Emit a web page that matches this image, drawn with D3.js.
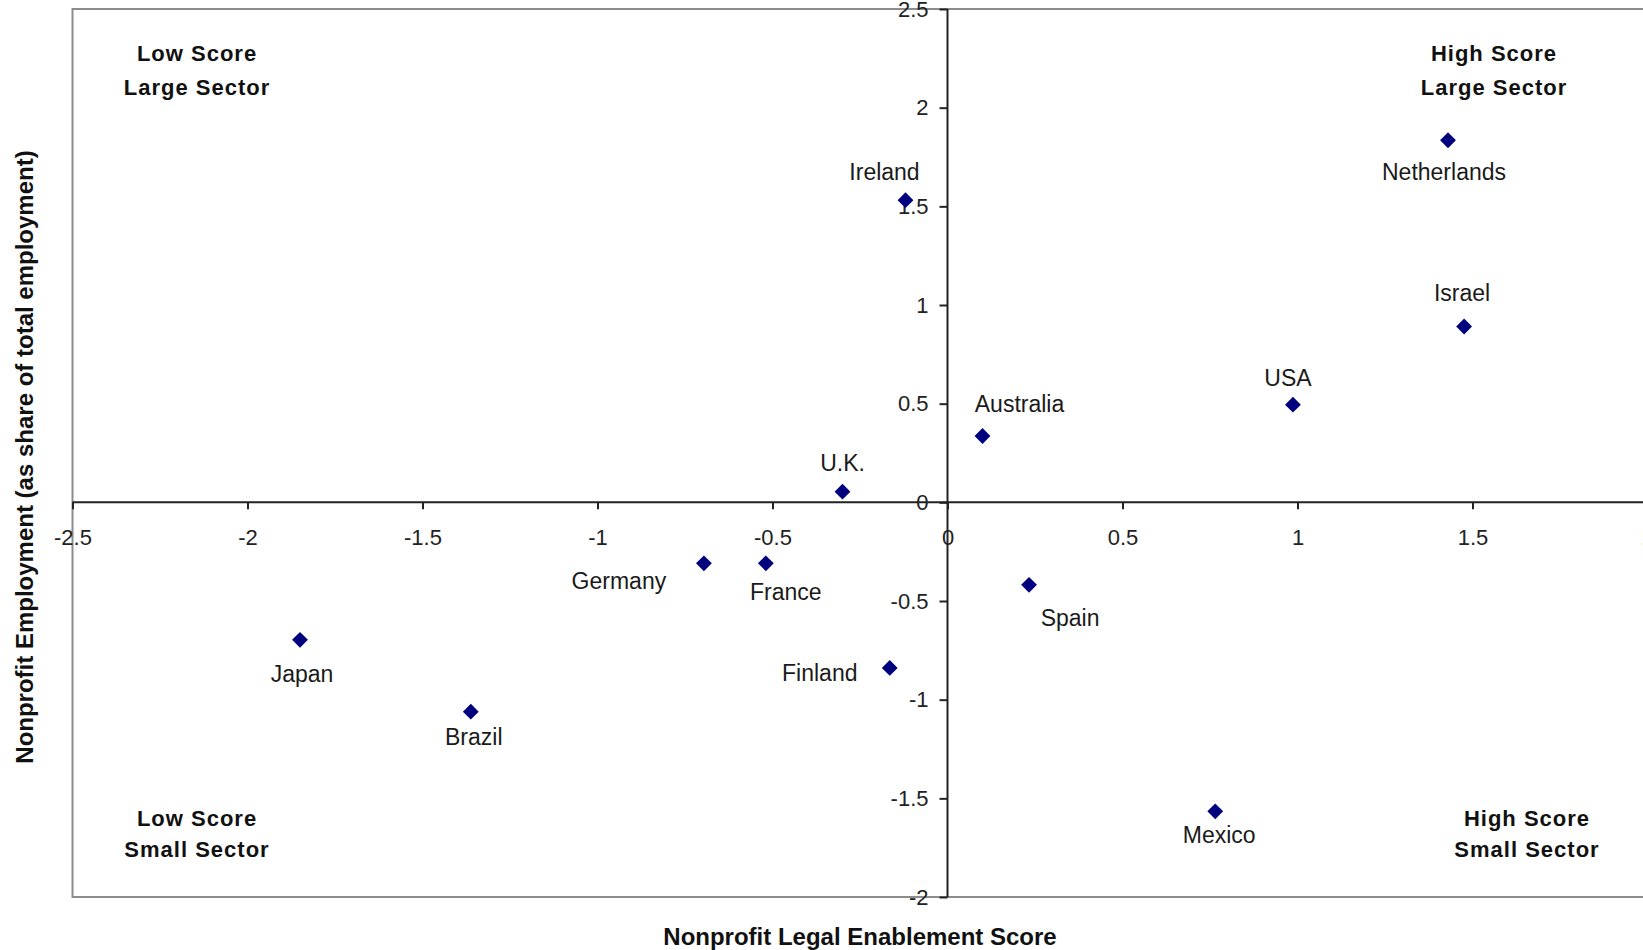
<!DOCTYPE html>
<html>
<head>
<meta charset="utf-8">
<script src="https://cdn.jsdelivr.net/npm/d3@7"></script>
<style>
  html, body { margin: 0; padding: 0; background: #fff; overflow: hidden; }
  svg { display: block; font-family: "Liberation Sans", Arial, sans-serif; }
</style>
</head>
<body>
<svg id="chart" width="1643" height="950"></svg>
<script>
// ---- Data ----
const countries = ["Ireland", "Netherlands", "Israel", "USA", "Australia", "U.K.", "Germany", "France", "Spain", "Japan", "Finland", "Brazil", "Mexico"];
const enablementScore = [-0.12, 1.43, 1.476, 0.987, 0.10, -0.30, -0.696, -0.519, 0.233, -1.85, -0.165, -1.362, 0.765];
const employmentScore = [1.531, 1.835, 0.891, 0.495, 0.336, 0.054, -0.309, -0.309, -0.418, -0.697, -0.839, -1.061, -1.566];
const xTicks = [-2.5, -2, -1.5, -1, -0.5, 0, 0.5, 1, 1.5, 2];
const yTicks = [-2, -1.5, -1, -0.5, 0, 0.5, 1, 1.5, 2, 2.5];
const quadrantLabels = [["Low Score", "Large Sector"], ["High Score", "Large Sector"], ["Low Score", "Small Sector"], ["High Score", "Small Sector"]];
const xTitle = "Nonprofit Legal Enablement Score";
const yTitle = "Nonprofit Employment (as share of total employment)";

// ---- Layout (kept separate from data) ----
const labelOffsets = {
  "Ireland": [-21, -20], "Netherlands": [-4, 40], "Israel": [-2, -26], "USA": [-5, -19],
  "Australia": [37, -24], "U.K.": [0, -21], "Germany": [-85, 26], "France": [20, 37],
  "Spain": [41, 41], "Japan": [2, 42], "Finland": [-70, 13], "Brazil": [3, 33], "Mexico": [4, 32]
};
const plot = { left: 72.5, right: 1647.5, top: 9, bottom: 897 };

const svg = d3.select("#chart");
const x = d3.scaleLinear().domain([-2.5, 2]).range([plot.left, plot.right]);
const y = d3.scaleLinear().domain([-2, 2.5]).range([plot.bottom, plot.top]);
const fmt = d => String(d);

// frame
svg.append("rect")
  .attr("x", plot.left).attr("y", plot.top)
  .attr("width", plot.right - plot.left).attr("height", plot.bottom - plot.top)
  .attr("fill", "none").attr("stroke", "#8c8c8c").attr("stroke-width", 2);

// x axis through y=0
const xAxis = svg.append("g")
  .attr("transform", `translate(0,${y(0)})`)
  .call(d3.axisBottom(x).tickValues(xTicks).tickFormat(fmt).tickSizeInner(7).tickSizeOuter(0).tickPadding(20));
// y axis through x=0
const yAxis = svg.append("g")
  .attr("transform", `translate(${x(0)},0)`)
  .call(d3.axisLeft(y).tickValues(yTicks).tickFormat(fmt).tickSizeInner(8).tickSizeOuter(0).tickPadding(11));

[xAxis, yAxis].forEach(g => {
  g.select(".domain").attr("stroke", "#222").attr("stroke-width", 2);
  g.selectAll(".tick line").attr("stroke", "#222").attr("stroke-width", 2);
  g.selectAll(".tick text").attr("fill", "#222").style("font-size", "22px").style("font-family", "'Liberation Sans', Arial, sans-serif");
});
xAxis.select(".domain").attr("d", `M${plot.left},0H${plot.right}`);
yAxis.select(".domain").attr("d", `M0,${plot.top}V${plot.bottom}`);

// points
const data = countries.map((c, i) => ({ name: c, xv: enablementScore[i], yv: employmentScore[i] }));
const sym = d3.symbol().type(d3.symbolSquare).size(125);
svg.append("g").selectAll("path").data(data).join("path")
  .attr("d", sym)
  .attr("fill", "#00007f")
  .attr("transform", d => `translate(${x(d.xv)},${y(d.yv)}) rotate(45)`);

// point labels
svg.append("g").selectAll("text").data(data).join("text")
  .attr("x", d => x(d.xv) + labelOffsets[d.name][0])
  .attr("y", d => y(d.yv) + labelOffsets[d.name][1])
  .attr("text-anchor", "middle")
  .attr("fill", "#1a1a1a")
  .style("font-size", "23px")
  .text(d => d.name);

// quadrant labels
const qPos = [[197, 61], [1494, 61], [197, 826], [1527, 826]];
quadrantLabels.forEach((lines, i) => {
  const t = svg.append("text")
    .attr("text-anchor", "middle")
    .attr("fill", "#111")
    .style("font-size", "22px").style("font-weight", "bold").style("letter-spacing", "1px");
  lines.forEach((ln, j) => {
    t.append("tspan").attr("x", qPos[i][0]).attr("y", qPos[i][1] + j * (i < 2 ? 34 : 30.7)).text(ln);
  });
});

// axis titles
svg.append("text")
  .attr("x", 860).attr("y", 945)
  .attr("text-anchor", "middle").attr("fill", "#111")
  .style("font-size", "24px").style("font-weight", "bold")
  .text(xTitle);
svg.append("text")
  .attr("transform", "translate(33,457) rotate(-90)")
  .attr("text-anchor", "middle").attr("fill", "#111")
  .style("font-size", "24px").style("font-weight", "bold")
  .text(yTitle);
</script>
</body>
</html>
